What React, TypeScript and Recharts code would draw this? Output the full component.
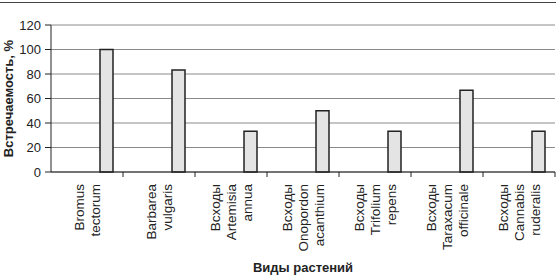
import { BarChart, Bar, XAxis, YAxis, CartesianGrid } from "recharts"

const species = [
  "Bromus\ntectorum",
  "Barbarea\nvulgaris",
  "Всходы\nArtemisia\nannua",
  "Всходы\nOnopordon\nacanthium",
  "Всходы\nTrifolium\nrepens",
  "Всходы\nTaraxacum\nofficinale",
  "Всходы\nCannabis\nruderalis",
]
const occurrence = [100, 83.3, 33.3, 50, 33.3, 66.7, 33.3]
const yTicks = [0, 20, 40, 60, 80, 100, 120]

const data = species.map((name, i) => ({ name, spacer: null, value: occurrence[i] }))

const FONT = "'Liberation Sans', Arial, sans-serif"
const INK = "#222"

function SpeciesTick(props: any) {
  const { x, y, payload } = props
  const lines: string[] = String(payload.value).split("\n")
  const half = 36
  return (
    <g>
      <line x1={x + half} y1={y - 8} x2={x + half} y2={y - 3} stroke={INK} strokeWidth={1} />
      {lines.map((line, i) => {
        const dx = (i - (lines.length - 1) / 2) * 16
        return (
          <text
            key={i}
            transform={`translate(${x + dx}, ${y + 4}) rotate(-90)`}
            textAnchor="end"
            dominantBaseline="central"
            fontFamily={FONT}
            fontSize={13.5}
            fill={INK}
          >
            {line}
          </text>
        )
      })}
    </g>
  )
}

export default function App() {
  return (
    <div
      style={{
        position: "absolute",
        left: 0,
        top: 0,
        width: 556,
        height: 280,
        background: "#fff",
      }}
    >
      <div style={{ position: "absolute", left: 0, top: 2, width: 556, borderTop: "1.5px solid #444" }} />
      <BarChart
        width={556}
        height={280}
        data={data}
        margin={{ top: 25, right: 1, left: 0, bottom: 0 }}
        barSize={13}
        barGap={26}
      >
        <CartesianGrid vertical={false} stroke="#8a8a8a" strokeWidth={1} />
        <XAxis
          dataKey="name"
          height={108}
          interval={0}
          tickLine={false}
          axisLine={{ stroke: INK, strokeWidth: 1 }}
          tick={<SpeciesTick />}
          label={{
            value: "Виды растений",
            position: "insideBottom",
            offset: 8,
            style: { fontFamily: FONT, fontSize: 13, fontWeight: "bold", fill: INK },
          }}
        />
        <YAxis
          width={51}
          domain={[0, 120]}
          ticks={yTicks}
          tickSize={6}
          tickMargin={4}
          tickLine={{ stroke: INK }}
          axisLine={{ stroke: INK, strokeWidth: 1 }}
          tick={{ fontFamily: FONT, fontSize: 13, fill: INK }}
          label={{
            content: (p: any) => {
              const vb = p.viewBox
              const cx = vb.x + 8
              const cy = vb.y + vb.height / 2
              return (
                <text
                  transform={`translate(${cx}, ${cy}) rotate(-90)`}
                  textAnchor="middle"
                  dominantBaseline="central"
                  fontFamily={FONT}
                  fontSize={13}
                  fontWeight="bold"
                  fill={INK}
                >
                  Встречаемость, %
                </text>
              )
            },
          }}
        />
        <Bar dataKey="spacer" fill="none" isAnimationActive={false} />
        <Bar dataKey="value" fill="#e4e4e4" stroke={INK} strokeWidth={1.5} isAnimationActive={false} />
      </BarChart>
    </div>
  )
}
